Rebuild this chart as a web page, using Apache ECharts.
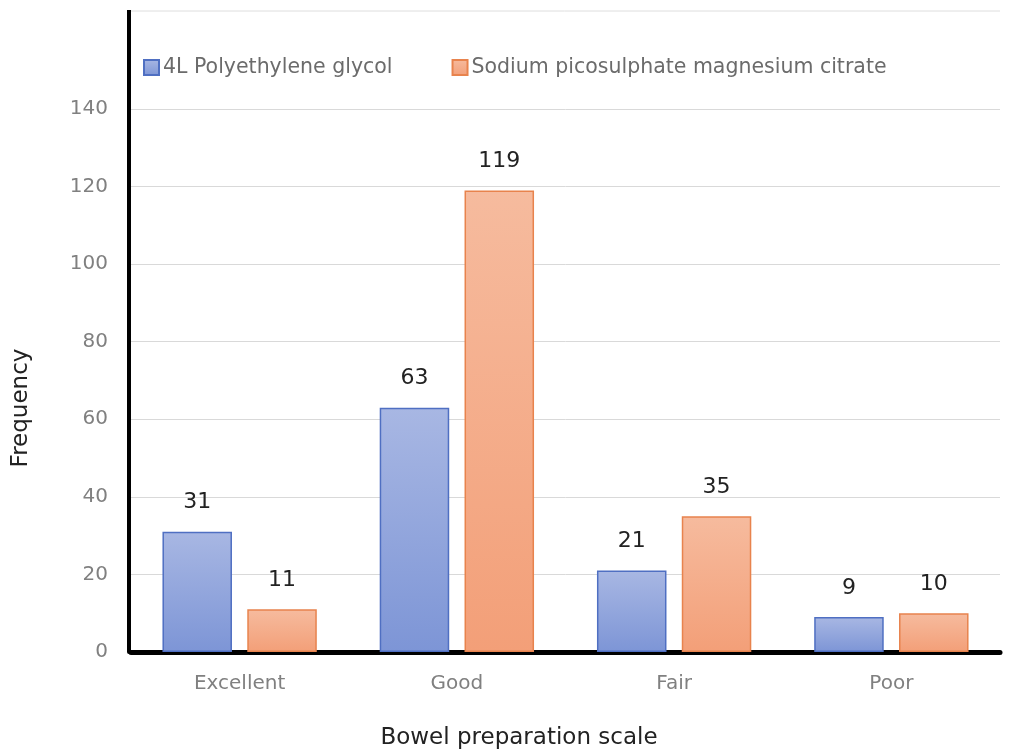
<!DOCTYPE html>
<html>
<head>
<meta charset="utf-8">
<script src="https://cdn.jsdelivr.net/npm/echarts@6/dist/echarts.min.js"></script>
<style>
  html, body { margin: 0; padding: 0; background: #fff; }
  #chart { width: 1018px; height: 753px; }
</style>
</head>
<body>
<div id="chart"></div>
<script>
// Bowel preparation quality by regimen
const categories = ['Excellent', 'Good', 'Fair', 'Poor'];
const pegValues = [31, 63, 21, 9];
const spmcValues = [11, 119, 35, 10];
const seriesNames = ['4L Polyethylene glycol', 'Sodium picosulphate magnesium citrate'];
const yTicks = [0, 20, 40, 60, 80, 100, 120, 140];

const chart = echarts.init(document.getElementById('chart'));

function grad(top, bottom) {
  return new echarts.graphic.LinearGradient(0, 0, 0, 1, [
    { offset: 0, color: top },
    { offset: 1, color: bottom }
  ]);
}

const labelStyle = {
  show: true,
  position: 'top',
  distance: 18,
  fontFamily: 'DejaVu Sans',
  fontSize: 22,
  color: '#222222'
};

chart.setOption({
  animation: false,
  backgroundColor: '#ffffff',
  legend: {
    left: 143,
    top: 57,
    padding: 0,
    itemWidth: 15,
    itemHeight: 15,
    itemGap: 59,
    icon: 'rect',
    textStyle: { fontFamily: 'DejaVu Sans', fontSize: 20.5, color: '#6b6b6b', padding: [0, 0, 0, -1] },
    data: seriesNames
  },
  grid: { left: 131, right: 18, top: 109, bottom: 101, containLabel: false },
  xAxis: {
    type: 'category',
    data: categories,
    axisLine: { show: true, lineStyle: { color: '#000000', width: 5 } },
    axisTick: { show: false },
    axisLabel: { margin: 22, fontFamily: 'DejaVu Sans', fontSize: 20, color: '#808080' }
  },
  yAxis: {
    type: 'value',
    min: yTicks[0],
    max: yTicks[yTicks.length - 1],
    interval: 20,
    offset: 2,
    axisLine: { show: true, lineStyle: { color: '#000000', width: 4 } },
    axisTick: { show: false },
    axisLabel: { margin: 21, fontFamily: 'DejaVu Sans', fontSize: 20, color: '#808080' },
    splitLine: { show: true, lineStyle: { color: '#d9d9d9', width: 1 } }
  },
  graphic: [
    // top border of the plotting area
    { type: 'line', z: 1, shape: { x1: 129, y1: 11, x2: 1000, y2: 11 }, style: { stroke: '#dedede', lineWidth: 1 } },
    // vertical axis continues above the last tick
    { type: 'line', z: 10, shape: { x1: 129, y1: 10, x2: 129, y2: 110 }, style: { stroke: '#000000', lineWidth: 4 } },
    { type: 'text', z: 10, x: 21, y: 408, rotation: Math.PI / 2,
      style: { text: 'Frequency', x: 0, y: 0, align: 'center', verticalAlign: 'middle',
               fontFamily: 'DejaVu Sans', fontSize: 23, fill: '#222222' } },
    { type: 'text', z: 10, x: 519, y: 738,
      style: { text: 'Bowel preparation scale', x: 0, y: 0, align: 'center', verticalAlign: 'middle',
               fontFamily: 'DejaVu Sans', fontSize: 23, fill: '#222222' } }
  ],
  series: [
    {
      name: seriesNames[0],
      type: 'bar',
      data: pegValues,
      barWidth: '32%',
      barGap: '22%',
      itemStyle: { color: grad('#a8b7e3', '#7d95d6'), borderColor: '#4f6fc2', borderWidth: 1.5 },
      label: labelStyle
    },
    {
      name: seriesNames[1],
      type: 'bar',
      data: spmcValues,
      barWidth: '32%',
      itemStyle: { color: grad('#f6bb9e', '#f39f78'), borderColor: '#e8834d', borderWidth: 1.5 },
      label: labelStyle
    }
  ]
});
</script>
</body>
</html>
